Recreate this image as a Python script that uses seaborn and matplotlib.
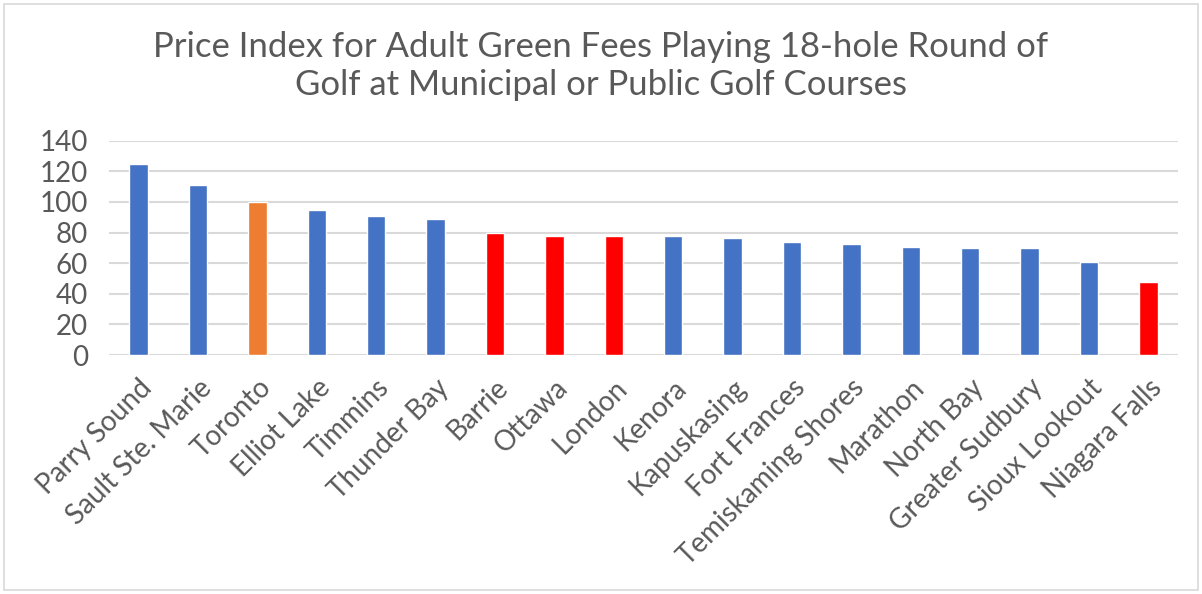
import matplotlib
matplotlib.use("Agg")
import matplotlib.pyplot as plt
import seaborn as sns
from matplotlib.patches import Rectangle

categories = ["Parry Sound", "Sault Ste. Marie", "Toronto", "Elliot Lake", "Timmins",
              "Thunder Bay", "Barrie", "Ottawa", "London", "Kenora", "Kapuskasing",
              "Fort Frances", "Temiskaming Shores", "Marathon", "North Bay",
              "Greater Sudbury", "Sioux Lookout", "Niagara Falls"]
values = [124.6, 111.3, 100.0, 94.6, 90.9, 88.9, 79.6, 77.8, 77.8, 77.6, 76.7,
          74.1, 72.6, 70.4, 69.8, 69.8, 60.9, 47.8]
bar_colors = ["#4472C4", "#4472C4", "#ED7D31", "#4472C4", "#4472C4", "#4472C4",
              "#FF0000", "#FF0000", "#FF0000", "#4472C4", "#4472C4", "#4472C4",
              "#4472C4", "#4472C4", "#4472C4", "#4472C4", "#4472C4", "#FF0000"]
yticks = [0, 20, 40, 60, 80, 100, 120, 140]
title = "Price Index for Adult Green Fees Playing 18-hole Round of\nGolf at Municipal or Public Golf Courses"

sns.set_theme(style="white")
plt.rcParams["font.family"] = ["Lato", "DejaVu Sans"]
text_color = "#595959"

W, H = 1202, 594
fig = plt.figure(figsize=(W / 100, H / 100), dpi=100)
x0, x1, ytop, ybot = 109, 1178, 140.7, 355
ax = fig.add_axes([x0 / W, 1 - ybot / H, (x1 - x0) / W, (ybot - ytop) / H])

sns.barplot(x=categories, y=values, hue=categories, palette=bar_colors,
            legend=False, width=0.31, ax=ax, saturation=1)

ax.set_ylim(0, 140)
ax.set_xlim(-0.5, len(categories) - 0.5)
ax.set_yticks(yticks)
ax.set_yticklabels([str(t) for t in yticks], fontsize=20, color=text_color)
ax.yaxis.grid(True, color="#D9D9D9", linewidth=1.5)
ax.set_axisbelow(True)
for s in ax.spines.values():
    s.set_visible(False)
ax.tick_params(axis="y", length=0, pad=15)
ax.tick_params(axis="x", length=0, pad=14)
ax.set_xticks(range(len(categories)))
ax.set_xticklabels(categories, rotation=45, ha="right", rotation_mode="anchor",
                   fontsize=20, color=text_color)
ax.set_xlabel("")
ax.set_ylabel("")

fig.text(0.5, 1 - 66 / H, title, ha="center", va="center", fontsize=25,
         color=text_color, linespacing=1.24)

fig.patches.append(Rectangle((4 / W, 4 / H), 1 - 8 / W, 1 - 8 / H,
                             transform=fig.transFigure, fill=False,
                             edgecolor="#D9D9D9", linewidth=1.2))

fig.savefig("out.png", dpi=100)
